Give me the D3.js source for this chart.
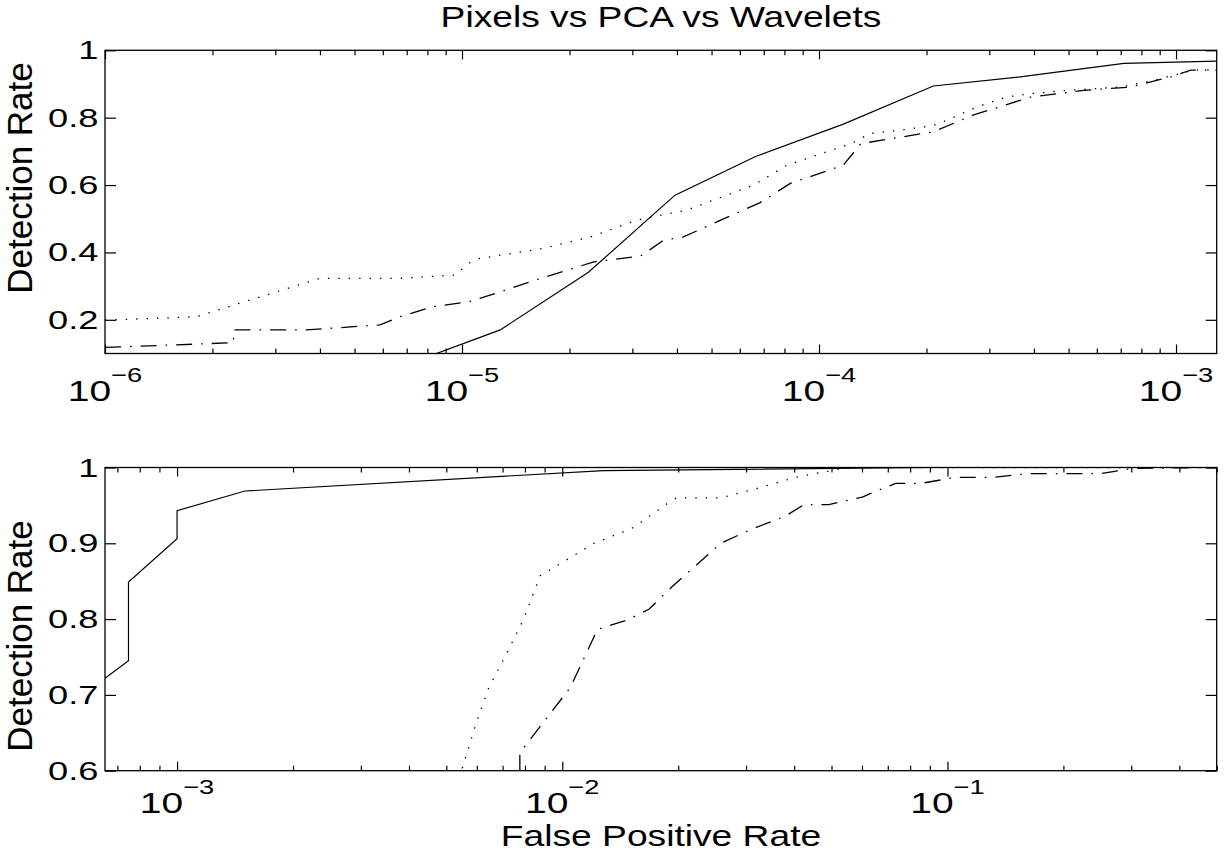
<!DOCTYPE html>
<html>
<head>
<meta charset="utf-8">
<script src="https://cdn.jsdelivr.net/npm/d3@7"></script>
<style>
  html, body { margin: 0; padding: 0; background: #fff; }
  svg { display: block; }
  text { font-family: "Liberation Sans", Arial, Helvetica, sans-serif; fill: #000; }
</style>
</head>
<body>
<svg id="chart" width="1225" height="854"></svg>
<script>
// ---- data: ROC curves (false positive rate vs detection rate) ----
// upper panel: low false-positive range
const topPixelsFPR   = [8e-6, 1.28e-5, 2.26e-5, 3.95e-5, 6.62e-5, 1.17e-4, 2.09e-4, 3.66e-4, 7.14e-4, 1.3e-3];
const topPixelsDR    = [0.09, 0.170, 0.341, 0.570, 0.684, 0.781, 0.894, 0.921, 0.961, 0.968];

const topPcaFPR      = [1e-6, 1.8e-6, 4.0e-6, 6.7e-6, 9.55e-6, 1.05e-5, 1.12e-5, 1.69e-5, 2.29e-5, 3.09e-5, 4.27e-5,
                        6.56e-5, 8.13e-5, 1.23e-4, 1.39e-4, 1.69e-4, 2.09e-4, 2.28e-4, 2.77e-4, 3.37e-4, 4.0e-4,
                        4.95e-4, 7.0e-4, 8.67e-4, 1.12e-3, 1.3e-3];
const topPcaDR       = [0.199, 0.209, 0.323, 0.323, 0.333, 0.369, 0.382, 0.412, 0.446, 0.496, 0.526,
                        0.600, 0.659, 0.723, 0.753, 0.763, 0.777, 0.792, 0.832, 0.862, 0.872,
                        0.881, 0.891, 0.911, 0.941, 0.943];

const topWaveletFPR  = [1e-6, 2.29e-6, 2.29e-6, 3.67e-6, 5.89e-6, 6.7e-6, 8.3e-6, 1.05e-5, 1.28e-5, 1.66e-5, 2.34e-5,
                        3.16e-5, 3.67e-5, 4.17e-5, 6.84e-5, 8.31e-5, 1.17e-4, 1.31e-4, 2.09e-4, 2.71e-4, 3.91e-4,
                        5.52e-4, 7.46e-4, 9.66e-4, 1.10e-3, 1.3e-3];
const topWaveletDR   = [0.118, 0.132, 0.170, 0.170, 0.185, 0.209, 0.239, 0.254, 0.283, 0.323, 0.372,
                        0.389, 0.436, 0.446, 0.548, 0.605, 0.659, 0.723, 0.758, 0.808, 0.861,
                        0.881, 0.891, 0.921, 0.941, 0.941];

// lower panel: high false-positive range
const botPixelsFPR   = [6e-4, 7.48e-4, 7.48e-4, 1e-3, 1e-3, 1.5e-3, 1.28e-2, 9e-2, 0.5];
const botPixelsDR    = [0.709, 0.745, 0.849, 0.906, 0.943, 0.969, 0.996, 1.0, 1.0];

const botPcaFPR      = [5.4e-3, 5.98e-3, 6.09e-3, 6.44e-3, 7.16e-3, 7.92e-3, 8.58e-3, 8.75e-3, 0.0121, 0.01535,
                        0.0188, 0.0198, 0.0258, 0.0313, 0.0403, 0.0523, 0.06, 0.5];
const botPcaDR       = [0.59, 0.663, 0.674, 0.709, 0.754, 0.799, 0.845, 0.857, 0.900, 0.921,
                        0.953, 0.960, 0.960, 0.971, 0.987, 0.998, 1.0, 1.0];

const botWaveletFPR  = [7.76e-3, 7.76e-3, 7.91e-3, 0.0105, 0.0121, 0.0123, 0.01476, 0.01679, 0.0193, 0.0258, 0.0308,
                        0.038, 0.0424, 0.0492, 0.0601, 0.0684, 0.0734, 0.0853, 0.105, 0.131, 0.1614, 0.25, 0.305, 0.5];
const botWaveletDR   = [0.6, 0.624, 0.629, 0.71, 0.777, 0.786, 0.799, 0.813, 0.843, 0.900, 0.918,
                        0.936, 0.951, 0.951, 0.961, 0.973, 0.979, 0.979, 0.987, 0.987, 0.992, 0.992, 0.999, 1.0];

// axis tick values
const topXTicks = [1e-6, 1e-5, 1e-4, 1e-3];
const topYTicks = [0.2, 0.4, 0.6, 0.8, 1];
const botXTicks = [1e-3, 1e-2, 1e-1];
const botYTicks = [0.6, 0.7, 0.8, 0.9, 1];
const tickExponents = new Map([[1e-6, "6"], [1e-5, "5"], [1e-4, "4"], [1e-3, "3"], [1e-2, "2"], [1e-1, "1"]]);

const titleText = "Pixels vs PCA vs Wavelets";
const xLabelText = "False Positive Rate";
const yLabelText = "Detection Rate";

// ---- layout ----
const svg = d3.select("#chart");
const panelLeft = 105, panelRight = 1216.7;

const panels = [
  { id: "top", xDomain: [1e-6, 1.3e-3], yDomain: [0.1, 1], top: 50.3, bottom: 353.5,
    xTicks: topXTicks, yTicks: topYTicks, yLabelY: 178, xLabelOffset: 47.5,
    series: [
      { fpr: topPixelsFPR,  dr: topPixelsDR,  dash: null },
      { fpr: topPcaFPR,     dr: topPcaDR,     dash: "1.4 9" },
      { fpr: topWaveletFPR, dr: topWaveletDR, dash: "16 9 1.6 9" }
    ] },
  { id: "bot", xDomain: [6.5e-4, 0.5], yDomain: [0.6, 1], top: 467.5, bottom: 770.7,
    xTicks: botXTicks, yTicks: botYTicks, yLabelY: 636, xLabelOffset: 42,
    series: [
      { fpr: botPixelsFPR,  dr: botPixelsDR,  dash: null },
      { fpr: botPcaFPR,     dr: botPcaDR,     dash: "1.4 9" },
      { fpr: botWaveletFPR, dr: botWaveletDR, dash: "16 9 1.6 9" }
    ] }
];

function minorTicks(domain) {
  const out = [];
  const lo = Math.floor(Math.log10(domain[0])), hi = Math.ceil(Math.log10(domain[1]));
  for (let e = lo; e <= hi; e++) {
    for (let m = 2; m <= 9; m++) {
      const v = m * Math.pow(10, e);
      if (v >= domain[0] && v <= domain[1]) out.push(v);
    }
  }
  return out;
}

panels.forEach(p => {
  const x = d3.scaleLog().domain(p.xDomain).range([panelLeft, panelRight]);
  const y = d3.scaleLinear().domain(p.yDomain).range([p.bottom, p.top]);
  const g = svg.append("g").attr("class", "panel-" + p.id);

  g.append("clipPath").attr("id", "clip-" + p.id)
    .append("rect")
    .attr("x", panelLeft).attr("y", p.top)
    .attr("width", panelRight - panelLeft).attr("height", p.bottom - p.top);

  // curves
  const line = d3.line().x(d => x(d[0])).y(d => y(d[1]));
  const plot = g.append("g").attr("clip-path", `url(#clip-${p.id})`);
  p.series.forEach(s => {
    const pts = s.fpr.map((f, i) => [f, s.dr[i]]);
    plot.append("path")
      .attr("d", line(pts))
      .attr("fill", "none")
      .attr("stroke", "#000")
      .attr("stroke-width", s.dash ? 1.3 : 1.2)
      .attr("stroke-dasharray", s.dash);
  });

  // ticks pointing inward on all four sides
  const styleAxis = sel => {
    sel.select(".domain").remove();
    sel.selectAll(".tick line").attr("stroke", "#000").attr("stroke-width", 1.2);
    sel.selectAll(".tick text").remove();
  };
  const minors = minorTicks(p.xDomain);
  g.append("g").attr("transform", `translate(0,${p.bottom})`)
    .call(d3.axisBottom(x).tickValues(p.xTicks).tickSize(-9)).call(styleAxis);
  g.append("g").attr("transform", `translate(0,${p.bottom})`)
    .call(d3.axisBottom(x).tickValues(minors).tickSize(-5)).call(styleAxis);
  g.append("g").attr("transform", `translate(0,${p.top})`)
    .call(d3.axisTop(x).tickValues(p.xTicks).tickSize(-9)).call(styleAxis);
  g.append("g").attr("transform", `translate(0,${p.top})`)
    .call(d3.axisTop(x).tickValues(minors).tickSize(-5)).call(styleAxis);
  g.append("g").attr("transform", `translate(${panelLeft},0)`)
    .call(d3.axisLeft(y).tickValues(p.yTicks).tickSize(-11)).call(styleAxis);
  g.append("g").attr("transform", `translate(${panelRight},0)`)
    .call(d3.axisRight(y).tickValues(p.yTicks).tickSize(-11)).call(styleAxis);

  // frame
  g.append("rect")
    .attr("x", panelLeft).attr("y", p.top)
    .attr("width", panelRight - panelLeft).attr("height", p.bottom - p.top)
    .attr("fill", "none").attr("stroke", "#000").attr("stroke-width", 1.3);

  // y tick labels
  g.selectAll("text.ylab").data(p.yTicks).join("text")
    .attr("class", "ylab")
    .attr("transform", d => `translate(98.5,${y(d) + 9}) scale(1.45,1)`)
    .attr("text-anchor", "end")
    .attr("font-size", 25)
    .text(d => d === 1 ? "1" : d3.format(".1f")(d));

  // x tick labels as powers of ten
  const xl = g.selectAll("text.xlab").data(p.xTicks).join("text")
    .attr("class", "xlab")
    .attr("transform", d => `translate(${x(d)},${p.bottom + p.xLabelOffset}) scale(1.3,1)`)
    .attr("text-anchor", "middle");
  xl.append("tspan").attr("font-size", 30).text("10");
  xl.append("tspan").attr("font-size", 21).attr("dy", -19).text(d => "\u2212" + tickExponents.get(d));

  // y axis title
  g.append("text")
    .attr("transform", `translate(31.5,${p.yLabelY}) rotate(-90)`)
    .attr("text-anchor", "middle")
    .attr("font-size", 35)
    .text(yLabelText);
});

// figure title and x axis title
svg.append("text")
  .attr("transform", `translate(661,26.7) scale(1.24,1)`)
  .attr("text-anchor", "middle")
  .attr("font-size", 30)
  .text(titleText);

svg.append("text")
  .attr("transform", `translate(661,846) scale(1.24,1)`)
  .attr("text-anchor", "middle")
  .attr("font-size", 30)
  .text(xLabelText);
</script>
</body>
</html>
